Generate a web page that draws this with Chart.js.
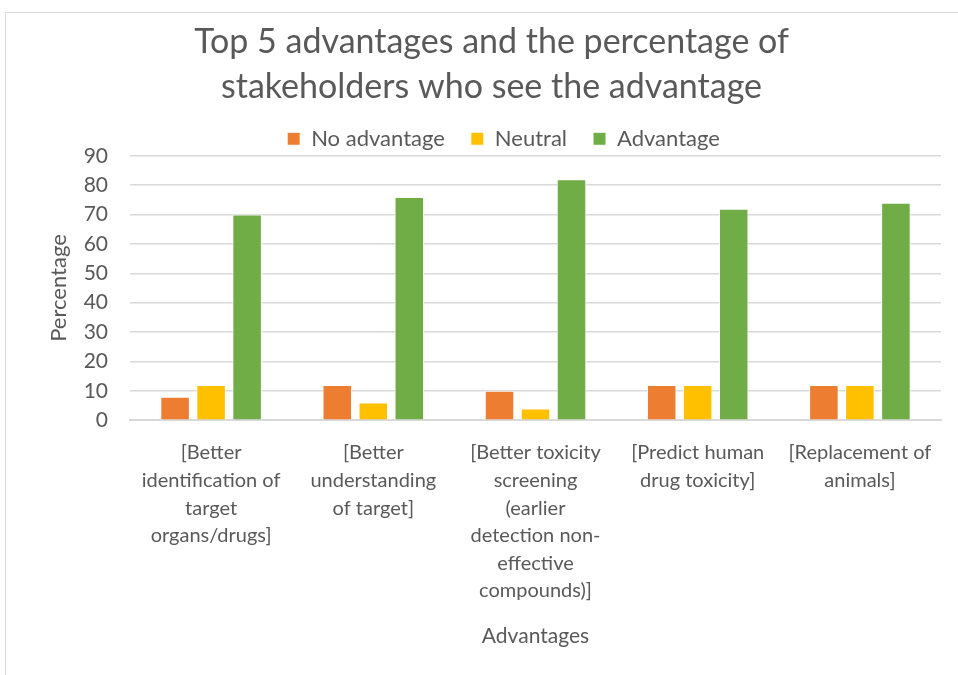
<!DOCTYPE html>
<html>
<head>
<meta charset="utf-8">
<script src="https://cdn.jsdelivr.net/npm/chart.js@4.4.1/dist/chart.umd.min.js"></script>
<style>
  html, body { margin: 0; padding: 0; background: #fff; }
  #wrap { position: relative; width: 958px; height: 675px; overflow: hidden; }
  #frame { position: absolute; left: 5px; top: 12px; width: 1000px; height: 700px; border: 1px solid #d9d9d9; }
  canvas { position: absolute; left: 0; top: 0; }
</style>
</head>
<body>
<div id="wrap">
  <div id="frame"></div>
  <canvas id="chart" width="958" height="675"></canvas>
</div>
<script>
// Top 5 advantages - grouped bars

const categories = [
  ["[Better", "identification of", "target", "organs/drugs]"],
  ["[Better", "understanding", "of target]"],
  ["[Better toxicity", "screening", "(earlier", "detection non-", "effective", "compounds)]"],
  ["[Predict human", "drug toxicity]"],
  ["[Replacement of", "animals]"]
];

const noAdvantage = [8, 12, 10, 12, 12];
const neutral = [12, 6, 4, 12, 12];
const advantage = [70, 76, 82, 72, 74];

const yTicks = [0, 10, 20, 30, 40, 50, 60, 70, 80, 90];

const textColor = "#595959";
const fontFamily = "Lato, 'Liberation Sans', sans-serif";

// nudge the legend a bit right and down, like the original
const legendShift = {
  id: "legendShift",
  afterLayout(chart) {
    if (chart.legend) {
      chart.legend.left += 12;
      chart.legend.right += 12;
      chart.legend.top += 4;
      chart.legend.bottom += 4;
    }
  }
};

new Chart(document.getElementById("chart"), {
  type: "bar",
  data: {
    labels: categories,
    datasets: [
      {
        label: "No advantage",
        data: noAdvantage,
        backgroundColor: "#ED7D31",
        borderColor: "#ffffff",
        borderWidth: 1
      },
      {
        label: "Neutral",
        data: neutral,
        backgroundColor: "#FFC000",
        borderColor: "#ffffff",
        borderWidth: 1
      },
      {
        label: "Advantage",
        data: advantage,
        backgroundColor: "#70AD47",
        borderColor: "#ffffff",
        borderWidth: 1
      }
    ]
  },
  options: {
    responsive: false,
    animation: false,
    layout: {
      padding: { top: 12, right: 17, bottom: 22, left: 42 }
    },
    datasets: {
      bar: {
        categoryPercentage: 0.666,
        barPercentage: 0.82
      }
    },
    plugins: {
      title: {
        display: true,
        text: ["Top 5 advantages and the percentage of", "stakeholders who see the advantage"],
        color: textColor,
        font: { family: fontFamily, size: 34, weight: "normal", lineHeight: 1.32 },
        padding: { top: 8, bottom: -12 }
      },
      legend: {
        display: true,
        position: "top",
        labels: {
          color: textColor,
          font: { family: fontFamily, size: 22 },
          boxWidth: 13,
          boxHeight: 13,
          padding: 26
        }
      },
      tooltip: { enabled: false }
    },
    scales: {
      x: {
        grid: { display: false },
        border: { color: "#d9d9d9", width: 2 },
        ticks: {
          color: textColor,
          font: { family: fontFamily, size: 20, lineHeight: 1.38 },
          maxRotation: 0,
          autoSkip: false,
          padding: 11
        },
        title: {
          display: true,
          text: "Advantages",
          color: textColor,
          font: { family: fontFamily, size: 21 },
          padding: { top: 8 }
        }
      },
      y: {
        min: 0,
        max: 90,
        afterBuildTicks: axis => {
          axis.ticks = yTicks.map(v => ({ value: v }));
        },
        afterFit: axis => {
          axis.width = 88;
        },
        grid: { color: "#d9d9d9", lineWidth: 1.5, drawTicks: false },
        border: { display: false },
        ticks: {
          color: textColor,
          font: { family: fontFamily, size: 21 },
          padding: 22
        },
        title: {
          display: true,
          text: "Percentage",
          color: textColor,
          font: { family: fontFamily, size: 22 },
          padding: { top: 4, bottom: 0 }
        }
      }
    }
  },
  plugins: [legendShift]
});
</script>
</body>
</html>
